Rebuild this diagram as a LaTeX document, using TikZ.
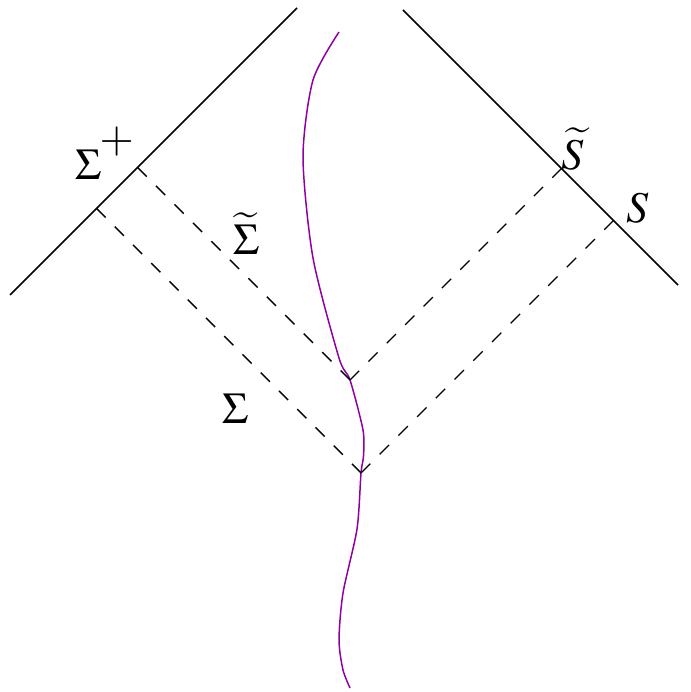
\documentclass[tikz,border=0pt]{standalone}
\usepackage{amsmath}
\usepackage{mathptmx}
\usepackage{tikz}
\usetikzlibrary{calc}
\definecolor{World_Purple}{RGB}{144,0,160}

\begin{document}
\begin{tikzpicture}[
    horizon/.style={line width=0.9pt, black},
    slice/.style={line width=0.8pt, black, dash pattern=on #1 off #1},
    lbl/.style={font=\fontsize{25}{30}\selectfont, inner sep=0pt}
]
    \useasboundingbox (0,0) rectangle (13.8,13.84);

    % ===== Null boundaries =====
    \coordinate (scriLlow) at (0.20,7.94);
    \coordinate (scriLtop) at (5.94,13.68);
    \coordinate (scriRtop) at (8.06,13.64);
    \coordinate (scriRlow) at (13.56,8.14);
    \draw[horizon] (scriLlow) -- (scriLtop);
    \draw[horizon] (scriRtop) -- (scriRlow);

    % ===== Worldline =====
    \draw[line width=0.85pt, World_Purple] plot[smooth, tension=0.45] coordinates {
        (6.78,13.20) (6.26,12.24) (6.06,10.70) (6.26,8.68) (6.78,6.68)
        (7.00,6.24) (7.26,5.24) (7.27,4.72) (7.22,4.38) (7.14,3.26)
        (6.86,1.98) (6.78,1.04) (6.86,0.44) (7.00,0.08)};

    % ===== Light rays from the two events =====
    \coordinate (evUp)  at (7.00,6.24);
    \coordinate (evLow) at (7.22,4.38);
    \coordinate (sigTilL) at (2.75,10.49);
    \coordinate (sigTilR) at (11.23,10.47);
    \coordinate (sigL) at (1.93,9.67);
    \coordinate (sigR) at (12.27,9.43);

    \draw[slice=7.43pt] (sigTilL) -- (evUp);
    \draw[slice=7.40pt] (evUp) -- (sigTilR);
    \draw[slice=7.34pt] (sigL) -- (evLow);
    \draw[slice=7.53pt] (evLow) -- (sigR);

    % ===== Labels =====
    \node[lbl, anchor=base west] (lblSigPlus) at (1.50,10.24) {$\Sigma$\hspace{-1pt}\raisebox{0.62em}{$+$}};
    \node[lbl, anchor=base] (lblSigTil) at (4.92,8.74) {$\widetilde{\Sigma}$};
    \node[lbl, anchor=base] (lblSig) at (4.71,5.36) {$\Sigma$};
    \node[lbl, anchor=base] (lblSTil) at (11.46,10.44) {$\widetilde{S}$};
    \node[lbl, anchor=base] (lblS) at (12.75,9.38) {$S$};
\end{tikzpicture}
\end{document}
